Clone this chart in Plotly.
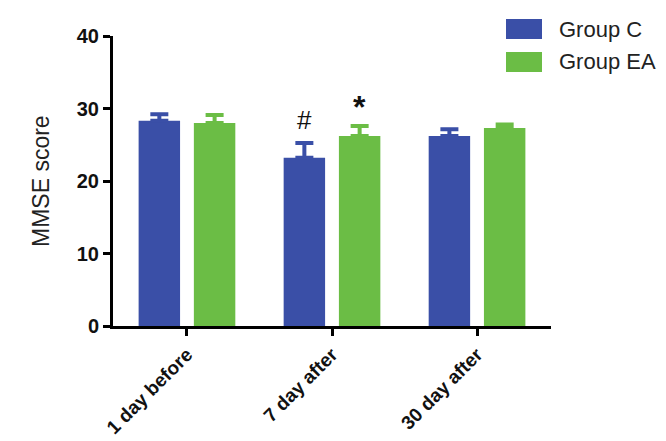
import plotly.graph_objects as go

categories = ["1 day before", "7 day after", "30 day after"]
group_c = [28.3, 23.2, 26.2]
group_c_err = [0.9, 2.05, 0.95]
group_ea = [28.0, 26.2, 27.3]
group_ea_err = [1.1, 1.4, 0.5]
y_ticks = [0, 10, 20, 30, 40]
marks_c = ["", "#", ""]
marks_ea = ["", "*", ""]

BLUE = "#3A4FA7"
GREEN = "#6BBD45"
FONT = "Liberation Sans, Arial, sans-serif"

# page body has an 8px default margin; compensate
OFF = 8
W, H = 666 - OFF, 441 - OFF
L, T = 113 - OFF, 36 - OFF
PW, PH = 438, 290

fig = go.Figure()
fig.add_trace(go.Bar(
    x=categories, y=group_c, name="Group C", marker_color=BLUE,
    marker_line_width=0,
    error_y=dict(type="data", array=group_c_err, arrayminus=[0]*3, symmetric=False,
                 color=BLUE, thickness=4, width=9),
))
fig.add_trace(go.Bar(
    x=categories, y=group_ea, name="Group EA", marker_color=GREEN,
    marker_line_width=0,
    error_y=dict(type="data", array=group_ea_err, arrayminus=[0]*3, symmetric=False,
                 color=GREEN, thickness=4, width=9),
))

annotations = []
for i, cat in enumerate(categories):
    if marks_c[i]:
        annotations.append(dict(x=cat, y=group_c[i] + group_c_err[i], xref="x", yref="y",
                                text=marks_c[i], showarrow=False, xshift=-27.5, yshift=23,
                                font=dict(family=FONT, size=26, color="#111")))
    if marks_ea[i]:
        annotations.append(dict(x=cat, y=group_ea[i] + group_ea_err[i], xref="x", yref="y",
                                text="<b>" + marks_ea[i] + "</b>", showarrow=False, xshift=27.5, yshift=19,
                                font=dict(family=FONT, size=32, color="#111")))

# Y axis title
annotations.append(dict(x=0, y=0.5, xref="paper", yref="paper", xshift=-72,
                        text="MMSE score", textangle=-90, showarrow=False,
                        xanchor="center", yanchor="middle",
                        font=dict(family=FONT, size=23, color="#222")))

# Legend (drawn manually to match the large swatches)
legend_items = [("Group C", BLUE, 29), ("Group EA", GREEN, 62)]
shapes = []
for label, col, yc in legend_items:
    shapes.append(dict(type="rect", xref="paper", yref="paper",
                       x0=(506 - 113) / PW, x1=(542 - 113) / PW,
                       y0=(326 - (yc + 10)) / PH, y1=(326 - (yc - 10)) / PH,
                       fillcolor=col, line_width=0))
    annotations.append(dict(x=(557 - 113) / PW, y=(326 - yc) / PH, xref="paper", yref="paper",
                            text=label, showarrow=False, xanchor="left", yanchor="middle",
                            font=dict(family=FONT, size=22, color="#222")))

fig.update_layout(
    width=W, height=H,
    margin=dict(l=L, r=W - L - PW, t=T, b=H - T - PH, autoexpand=False),
    paper_bgcolor="white", plot_bgcolor="white",
    barmode="group", bargap=0.238, bargroupgap=0.25,
    showlegend=False,
    annotations=annotations, shapes=shapes,
    font=dict(family=FONT, color="#111"),
)
fig.update_xaxes(
    range=[-0.51, 2.51], showline=True, linecolor="black", linewidth=3,
    ticks="outside", ticklen=7, tickwidth=3, tickcolor="black",
    tickangle=-45, tickfont=dict(family=FONT, size=19, color="#111", weight="bold"),
    showgrid=False, zeroline=False, automargin=False,
)
fig.update_yaxes(
    range=[0, 40], tickvals=y_ticks, showline=True, linecolor="black", linewidth=3,
    ticks="outside", ticklen=7, tickwidth=3, tickcolor="black",
    tickfont=dict(family=FONT, size=20, color="#111", weight="bold"),
    showgrid=False, zeroline=False, automargin=False,
)

fig.write_html("out.html")
